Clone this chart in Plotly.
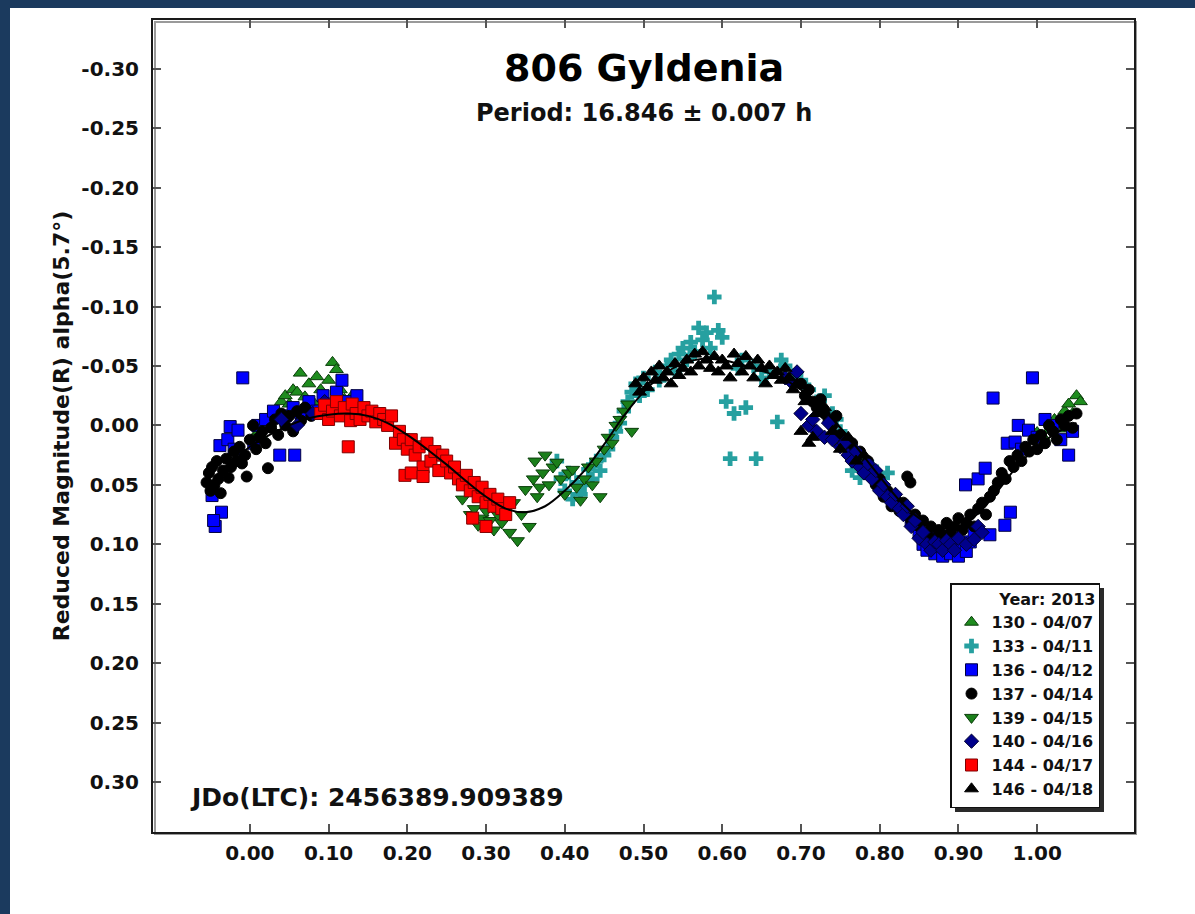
import plotly.graph_objects as go

# ---------------- data (phase, reduced magnitude) ----------------
s130_phase = [0.005, 0.012, 0.018, 0.025, 0.03, 0.035, 0.04, 0.045, 0.05, 0.055, 0.06, 0.064, 0.07, 0.075,
              0.08, 0.085, 0.09, 0.095, 0.1, 0.105, 0.11, 0.115, 0.12, 0.125, 0.13,
              1.0, 1.008, 1.015, 1.022, 1.03, 1.035, 1.04, 1.045, 1.05, 1.055]
s130_mag = [0.01, 0.005, 0.012, -0.002, -0.008, -0.012, -0.02, -0.025, -0.018, -0.03, -0.028, -0.044, -0.024, -0.035,
            -0.02, -0.041, -0.03, -0.015, -0.038, -0.053, -0.047, -0.03, -0.022, -0.015, -0.025,
            0.006, 0.01, 0.004, -0.005, 0.003, -0.012, -0.018, -0.01, -0.025, -0.02]

s133_phase = [0.39, 0.395, 0.40, 0.405, 0.41, 0.415, 0.42, 0.425, 0.43, 0.435, 0.44, 0.445, 0.45, 0.455, 0.46,
              0.465, 0.47, 0.475, 0.48, 0.485, 0.49, 0.495, 0.50, 0.505,
              0.515, 0.52, 0.53, 0.535, 0.54, 0.545, 0.55, 0.555, 0.56, 0.565, 0.57, 0.575, 0.58, 0.585, 0.59,
              0.595, 0.60, 0.605, 0.61, 0.615, 0.62, 0.625, 0.63, 0.643, 0.64, 0.65, 0.66, 0.67, 0.675, 0.68, 0.69,
              0.70, 0.71, 0.72, 0.73, 0.74, 0.745, 0.75, 0.76, 0.765, 0.77, 0.775, 0.78, 0.79, 0.80, 0.81]
s133_mag = [0.03, 0.045, 0.055, 0.04, 0.062, 0.048, 0.058, 0.05, 0.037, 0.045, 0.03, 0.038, 0.025, 0.02, 0.01,
            0.005, -0.002, -0.012, -0.02, -0.028, -0.035, -0.025, -0.04, -0.03,
            -0.045, -0.038, -0.05, -0.055, -0.045, -0.06, -0.065, -0.055, -0.07, -0.062, -0.082, -0.072, -0.078, -0.065, -0.108,
            -0.08, -0.074, -0.02, 0.028, -0.01, -0.048, -0.055, -0.015, 0.028, -0.05, -0.04, -0.045, -0.003, -0.055, -0.05, -0.042,
            -0.038, -0.03, -0.02, -0.025, -0.01, -0.005, 0.005, 0.015, 0.038, 0.025, 0.044, 0.03, 0.035, 0.045, 0.04]

s136_phase = [-0.048, -0.044, -0.036, -0.046, -0.038, -0.028, -0.025, -0.015, -0.009, -0.02, 0.005, 0.01, 0.02, 0.03,
              0.038, 0.057, 0.045, 0.055, 0.065, 0.075, 0.085, 0.093, 0.1, 0.11, 0.117, 0.125, 0.13, 0.136,
              0.83, 0.84, 0.85, 0.855, 0.86, 0.865, 0.87, 0.875, 0.88, 0.885, 0.89, 0.895, 0.9, 0.905, 0.91, 0.915,
              0.92, 0.909, 0.925, 0.934, 0.94, 0.944, 0.959, 0.966, 0.962, 0.972, 0.976, 0.989, 0.994, 0.98, 1.0,
              1.01, 1.02, 1.04, 1.03, 1.045]
s136_mag = [0.059, 0.085, 0.073, 0.08, 0.017, 0.012, 0.001, 0.004, -0.04, 0.02, 0.015, 0.0, -0.005, -0.012,
            0.025, 0.025, -0.008, -0.015, -0.01, -0.02, -0.012, -0.025, -0.018, -0.028, -0.038, -0.02, -0.012, -0.025,
            0.07, 0.08, 0.09, 0.1, 0.105, 0.095, 0.108, 0.1, 0.11, 0.102, 0.108, 0.095, 0.11, 0.1, 0.106, 0.098,
            0.09, 0.05, 0.045, 0.036, 0.092, -0.023, 0.084, 0.073, 0.015, 0.014, 0.0, 0.004, -0.04, 0.02, 0.01,
            -0.005, 0.0, 0.025, 0.012, 0.005]

s137_phase = [-0.055, -0.052, -0.05, -0.048, -0.045, -0.042, -0.04, -0.037, -0.034, -0.03, -0.027, -0.024, -0.02,
              -0.017, -0.013, -0.01, -0.006, -0.004, 0.0, 0.004, 0.008, 0.012, 0.016, 0.02, 0.023, 0.027, 0.032,
              0.036, 0.04, 0.045, 0.05, 0.055, 0.06, 0.065, 0.07, 0.078,
              0.70, 0.705, 0.71, 0.715, 0.72, 0.725, 0.73, 0.735, 0.74, 0.745, 0.75, 0.755, 0.76, 0.765, 0.77,
              0.775, 0.78, 0.785, 0.79, 0.795, 0.80, 0.805, 0.81, 0.815, 0.82, 0.825, 0.83, 0.835, 0.839, 0.84,
              0.845, 0.85, 0.855, 0.86, 0.865, 0.87, 0.875, 0.88, 0.885, 0.89, 0.895, 0.90, 0.905, 0.91, 0.915,
              0.92, 0.925, 0.93, 0.935, 0.94, 0.945, 0.95, 0.955, 0.96, 0.965, 0.97, 0.975, 0.98, 0.985, 0.99,
              0.995, 1.0, 1.005, 1.01, 1.015, 1.02, 1.025, 1.03, 1.035, 1.04, 1.045, 1.05]
s137_mag = [0.048, 0.04, 0.055, 0.035, 0.05, 0.03, 0.045, 0.057, 0.038, 0.028, 0.044, 0.035, 0.022,
            0.03, 0.018, 0.032, 0.025, 0.043, 0.012, 0.0, 0.02, 0.01, 0.005, 0.015, 0.036, 0.002, -0.005,
            0.008, -0.01, 0.0, -0.008, 0.005, -0.012, -0.004, -0.015, -0.008,
            -0.035, -0.025, -0.03, -0.02, -0.015, -0.022, -0.01, -0.005, 0.0, -0.008, 0.008, 0.012, 0.02, 0.015, 0.028,
            0.022, 0.035, 0.03, 0.042, 0.05, 0.045, 0.06, 0.055, 0.068, 0.062, 0.072, 0.065, 0.043, 0.048, 0.08,
            0.075, 0.085, 0.08, 0.09, 0.085, 0.095, 0.088, 0.092, 0.082, 0.09, 0.085, 0.078, 0.088, 0.082, 0.075,
            0.085, 0.07, 0.065, 0.075, 0.06, 0.055, 0.048, 0.04, 0.045, 0.03, 0.035, 0.025, 0.03, 0.018, 0.022,
            0.012, 0.02, 0.008, 0.015, 0.0, 0.005, 0.012, -0.005, 0.0, -0.008, 0.002, -0.01]

s139_phase = [0.27, 0.28, 0.285, 0.29, 0.295, 0.30, 0.305, 0.31, 0.315, 0.32, 0.325, 0.33, 0.335, 0.34, 0.345,
              0.35, 0.355, 0.36, 0.362, 0.365, 0.368, 0.372, 0.375, 0.38, 0.385, 0.39, 0.395, 0.40, 0.405, 0.41,
              0.415, 0.42, 0.425, 0.43, 0.435, 0.44, 0.445, 0.45, 0.455, 0.46, 0.465, 0.47, 0.475, 0.48, 0.485]
s139_mag = [0.062, 0.075, 0.07, 0.084, 0.078, 0.072, 0.08, 0.088, 0.075, 0.082, 0.07, 0.09, 0.065, 0.097, 0.075,
            0.054, 0.085, 0.045, 0.03, 0.06, 0.052, 0.04, 0.025, 0.05, 0.035, 0.031, 0.045, 0.058, 0.04, 0.037,
            0.052, 0.063, 0.045, 0.035, 0.05, 0.03, 0.06, 0.02, 0.01, 0.015, 0.0, -0.005, -0.012, -0.018, 0.005]

s140_phase = [0.04, 0.06, 0.08, 0.095,
              0.68, 0.69, 0.695, 0.70, 0.71, 0.715, 0.72, 0.73, 0.735, 0.74, 0.75, 0.755, 0.76, 0.765, 0.77,
              0.775, 0.78, 0.785, 0.79, 0.795, 0.80, 0.805, 0.81, 0.815, 0.82, 0.825, 0.83, 0.835, 0.84, 0.845,
              0.85, 0.855, 0.86, 0.865, 0.87, 0.875, 0.88, 0.885, 0.89, 0.895, 0.9, 0.91, 0.92, 0.925, 0.93]
s140_mag = [-0.005, 0.0, -0.01, -0.02,
            -0.04, -0.035, -0.045, -0.01, 0.0, -0.005, 0.005, 0.01, -0.002, 0.012, 0.018, 0.015, 0.025, 0.03, 0.022,
            0.035, 0.04, 0.032, 0.045, 0.038, 0.055, 0.05, 0.06, 0.065, 0.058, 0.07, 0.075, 0.068, 0.085, 0.08,
            0.095, 0.09, 0.1, 0.105, 0.098, 0.1, 0.105, 0.097, 0.1, 0.105, 0.095, 0.1, 0.096, 0.085, 0.09]

s144_phase = [0.09, 0.095, 0.1, 0.105, 0.11, 0.115, 0.12, 0.125, 0.128, 0.13, 0.135, 0.14, 0.145, 0.15, 0.155,
              0.16, 0.165, 0.17, 0.175, 0.18, 0.185, 0.19, 0.195, 0.197, 0.2, 0.205, 0.21, 0.215, 0.22, 0.225,
              0.23, 0.235, 0.24, 0.245, 0.25, 0.255, 0.26, 0.265, 0.27, 0.275, 0.28, 0.285, 0.29, 0.295, 0.30,
              0.305, 0.31, 0.315, 0.32, 0.325, 0.33, 0.283, 0.3, 0.205, 0.22]
s144_mag = [-0.01, -0.017, -0.005, -0.012, -0.02, -0.008, -0.015, 0.018, -0.004, -0.018, -0.01, -0.005, -0.015, -0.008, -0.012,
            -0.003, -0.01, -0.005, 0.0, -0.008, 0.015, 0.005, 0.012, 0.042, 0.02, 0.012, 0.025, 0.018, 0.035, 0.015,
            0.03, 0.022, 0.038, 0.025, 0.03, 0.04, 0.035, 0.045, 0.05, 0.042, 0.055, 0.048, 0.06, 0.052, 0.065,
            0.058, 0.068, 0.062, 0.07, 0.075, 0.065, 0.078, 0.085, 0.04, 0.043]

s146_phase = [0.49, 0.495, 0.5, 0.505, 0.51, 0.515, 0.52, 0.525, 0.53, 0.535, 0.54, 0.545, 0.55, 0.555, 0.56,
              0.565, 0.57, 0.575, 0.58, 0.585, 0.59, 0.595, 0.60, 0.605, 0.61, 0.615, 0.62, 0.625, 0.63, 0.635,
              0.64, 0.645, 0.65, 0.655, 0.66, 0.665, 0.67, 0.675, 0.68, 0.685, 0.69, 0.695, 0.70, 0.705, 0.71,
              0.715, 0.72, 0.73, 0.74, 0.75, 0.76, 0.77, 0.78]
s146_mag = [-0.035, -0.028, -0.04, -0.032, -0.045, -0.038, -0.05, -0.04, -0.045, -0.035, -0.052, -0.042, -0.048, -0.055, -0.045,
            -0.06, -0.05, -0.062, -0.055, -0.048, -0.058, -0.045, -0.055, -0.05, -0.04, -0.06, -0.052, -0.045, -0.058, -0.05,
            -0.04, -0.055, -0.048, -0.035, -0.05, -0.042, -0.045, -0.038, -0.048, -0.04, -0.03, -0.035, 0.005, -0.02, 0.015,
            0.01, -0.01, -0.015, 0.005, 0.02, 0.01, 0.03, 0.025]

fit_phase = [-0.05, -0.025, 0.0, 0.025, 0.05, 0.075, 0.10, 0.125, 0.15, 0.175, 0.20, 0.225, 0.25, 0.275, 0.30,
             0.325, 0.35, 0.375, 0.40, 0.425, 0.45, 0.475, 0.50, 0.525, 0.55, 0.575, 0.60, 0.625, 0.65, 0.675,
             0.70, 0.725, 0.75, 0.775, 0.80, 0.825, 0.85, 0.875, 0.90, 0.925, 0.95, 0.975, 1.00, 1.025, 1.05]
fit_mag = [0.05, 0.033, 0.018, 0.008, 0.0, -0.006, -0.009, -0.01, -0.008, -0.002, 0.008, 0.02, 0.033, 0.047, 0.06,
           0.07, 0.073, 0.068, 0.055, 0.038, 0.016, -0.008, -0.028, -0.043, -0.052, -0.056, -0.055, -0.051, -0.046, -0.04,
           -0.03, -0.016, 0.002, 0.022, 0.043, 0.063, 0.078, 0.086, 0.085, 0.074, 0.055, 0.034, 0.018, 0.006, -0.002]

series_names = ["130 - 04/07", "133 - 04/11", "136 - 04/12", "137 - 04/14",
                "139 - 04/15", "140 - 04/16", "144 - 04/17", "146 - 04/18"]

x_tickvals = [0.0, 0.1, 0.2, 0.3, 0.4, 0.5, 0.6, 0.7, 0.8, 0.9, 1.0]
x_ticktext = ["0.00", "0.10", "0.20", "0.30", "0.40", "0.50", "0.60", "0.70", "0.80", "0.90", "1.00"]
y_tickvals = [-0.30, -0.25, -0.20, -0.15, -0.10, -0.05, 0.0, 0.05, 0.10, 0.15, 0.20, 0.25, 0.30]
y_ticktext = ["-0.30", "-0.25", "-0.20", "-0.15", "-0.10", "-0.05", "0.00",
              "0.05", "0.10", "0.15", "0.20", "0.25", "0.30"]

title_text = "806 Gyldenia"
subtitle_text = "Period: 16.846 ± 0.007 h"
jd_text = "JDo(LTC): 2456389.909389"
ytitle_text = "Reduced Magnitude(R) alpha(5.7°)"
legend_title = "Year: 2013"

# ---------------- styles ----------------
FONT = "DejaVu Sans"
styles = [
    dict(symbol="triangle-up", size=12, color="#1e8c1e", line=dict(color="#0b3d0b", width=1)),
    dict(symbol="cross", size=12, color="#26a0a0", line=dict(color="#26a0a0", width=0)),
    dict(symbol="square", size=12, color="#0000ff", line=dict(color="#000040", width=1)),
    dict(symbol="circle", size=11, color="#000000", line=dict(color="#000000", width=1)),
    dict(symbol="triangle-down", size=12, color="#1a7f1a", line=dict(color="#0b3d0b", width=1)),
    dict(symbol="diamond", size=11, color="#00008b", line=dict(color="#000030", width=1)),
    dict(symbol="square", size=12, color="#ff0000", line=dict(color="#800000", width=1)),
    dict(symbol="triangle-up", size=12, color="#000000", line=dict(color="#000000", width=1)),
]
xs = [s130_phase, s133_phase, s136_phase, s137_phase, s139_phase, s140_phase, s144_phase, s146_phase]
ys = [s130_mag, s133_mag, s136_mag, s137_mag, s139_mag, s140_mag, s144_mag, s146_mag]

fig = go.Figure()
for name, x, y, st in zip(series_names, xs, ys, styles):
    fig.add_trace(go.Scatter(x=x, y=y, mode="markers", name=name, marker=st))

fig.add_trace(go.Scatter(x=fit_phase, y=fit_mag, mode="lines", line=dict(color="black", width=2, shape="spline"),
                         showlegend=False, hoverinfo="skip"))

W, H = 1195, 914
L, R, T, B = 153, 61, 20, 82
pw, ph = W - L - R, H - T - B

def px_x(p):
    return (p - L) / pw

def px_y(p):
    return (H - B - p) / ph

shapes = [
    # white page area on the dark slide background
    dict(type="rect", xref="paper", yref="paper", x0=px_x(10), x1=px_x(1300), y0=px_y(1000), y1=px_y(8),
         fillcolor="white", line=dict(width=0), layer="below"),
    # soft shadow of the plot frame
    dict(type="rect", xref="paper", yref="paper", x0=px_x(155), x1=px_x(1136), y0=px_y(834), y1=px_y(22),
         fillcolor="rgba(0,0,0,0)", line=dict(color="#9a9a9a", width=2), layer="below"),
    # legend drop shadow
    dict(type="rect", xref="paper", yref="paper", x0=px_x(955), x1=px_x(1104), y0=px_y(812), y1=px_y(588),
         fillcolor="#2a2a2a", line=dict(width=0), layer="above"),
]

axis_common = dict(showline=True, linecolor="#1a1a1a", linewidth=2, mirror="allticks", ticks="inside",
                   ticklen=8, tickwidth=1.5, tickcolor="#555555", showgrid=False, zeroline=False,
                   tickfont=dict(family=FONT, size=20, color="#111111", weight="bold"))

fig.update_layout(
    width=W, height=H,
    margin=dict(l=L, r=R, t=T, b=B),
    paper_bgcolor="#1b3a5e",
    plot_bgcolor="white",
    shapes=shapes,
    xaxis=dict(range=[-0.123, 1.123], tickmode="array", tickvals=x_tickvals, ticktext=x_ticktext,
               ticklabelstandoff=2, **axis_common),
    yaxis=dict(range=[0.342, -0.341], tickmode="array", tickvals=y_tickvals, ticktext=y_ticktext,
               ticklabelstandoff=8,
               title=dict(text=ytitle_text, font=dict(family=FONT, size=22, color="#111111", weight="bold"), standoff=6),
               **axis_common),
    showlegend=True,
    legend=dict(x=px_x(1100), y=px_y(808), xanchor="right", yanchor="bottom",
                bgcolor="white", bordercolor="#111111", borderwidth=1.5,
                font=dict(family=FONT, size=16, color="#111111", weight="bold"),
                title=dict(text=legend_title, side="top right",
                           font=dict(family=FONT, size=16, color="#111111", weight="bold")),
                tracegroupgap=0, itemwidth=30),
    annotations=[
        dict(text=title_text, x=0.5, y=px_y(68), xref="paper", yref="paper", showarrow=False,
             xanchor="center", yanchor="middle", font=dict(family=FONT, size=38, color="#000000", weight="bold")),
        dict(text=subtitle_text, x=0.5, y=px_y(113), xref="paper", yref="paper", showarrow=False,
             xanchor="center", yanchor="middle", font=dict(family=FONT, size=24, color="#111111", weight="bold")),
        dict(text=jd_text, x=px_x(188), y=px_y(797), xref="paper", yref="paper", showarrow=False,
             xanchor="left", yanchor="middle", font=dict(family=FONT, size=25, color="#111111", weight="bold")),
    ],
)

fig.write_html("out.html", config={"displayModeBar": False},
               post_script="document.body.style.margin='0px';")
